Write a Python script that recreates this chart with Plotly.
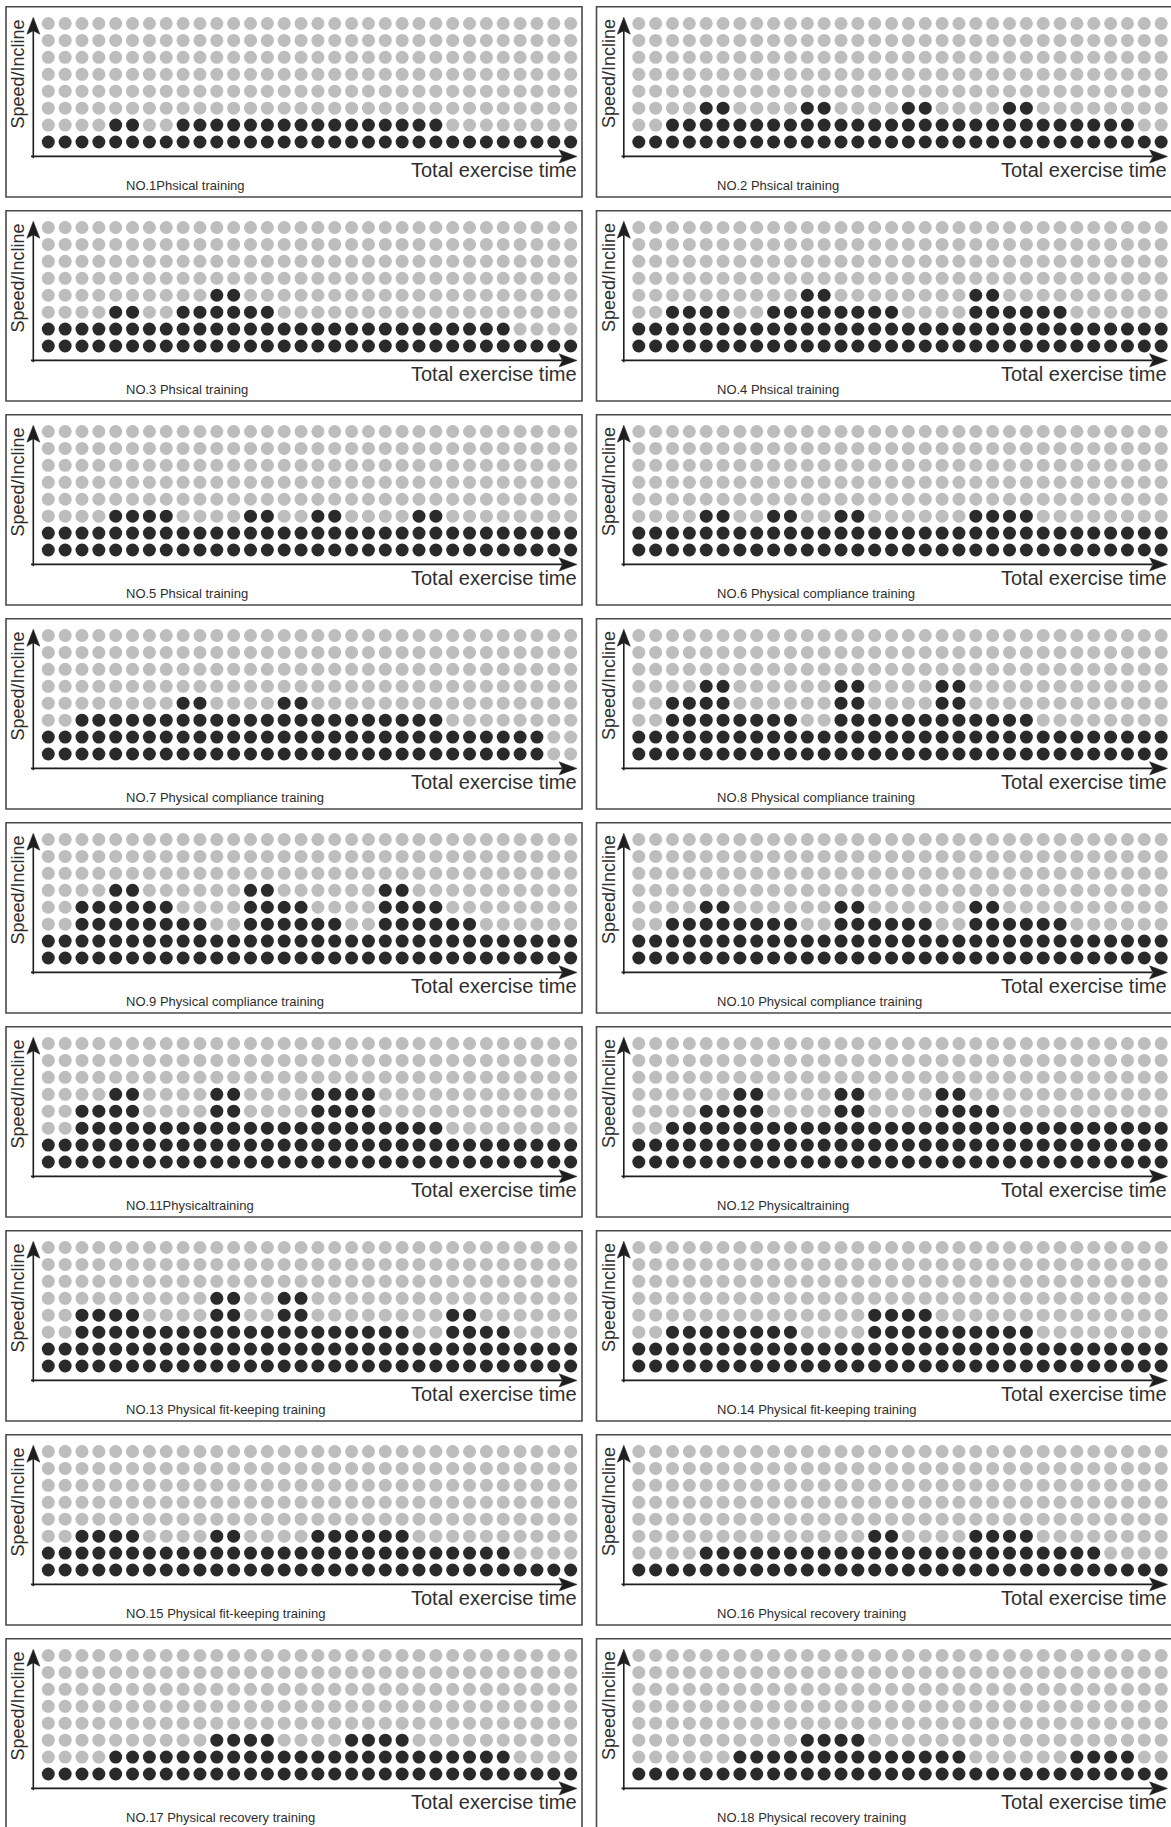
import plotly.graph_objects as go

W, H = 1171, 1827
N_COLS, N_ROWS = 32, 8

# number of dark dots (from the bottom) in each of the 32 time columns
p01 = [1,1,1,1,2,2,1,1, 2,2,2,2,2,2,2,2, 2,2,2,2,2,2,2,2, 1,1,1,1,1,1,1,1]
p02 = [1,1,2,2,3,3,2,2, 2,2,3,3,2,2,2,2, 3,3,2,2,2,2,3,3, 2,2,2,2,2,2,1,1]
p03 = [2,2,2,2,3,3,2,2, 3,3,4,4,3,3,2,2, 2,2,2,2,2,2,2,2, 2,2,2,2,1,1,1,1]
p04 = [2,2,3,3,3,3,2,2, 3,3,4,4,3,3,3,3, 2,2,2,2,4,4,3,3, 3,3,2,2,2,2,2,2]
p05 = [2,2,2,2,3,3,3,3, 2,2,2,2,3,3,2,2, 3,3,2,2,2,2,3,3, 2,2,2,2,2,2,2,2]
p06 = [2,2,2,2,3,3,2,2, 3,3,2,2,3,3,2,2, 2,2,2,2,3,3,3,3, 2,2,2,2,2,2,2,2]
p07 = [2,2,3,3,3,3,3,3, 4,4,3,3,3,3,4,4, 3,3,3,3,3,3,3,3, 2,2,2,2,2,2,0,0]
p08 = [2,2,4,4,5,5,3,3, 3,3,2,2,5,5,3,3, 3,3,5,5,3,3,3,3, 2,2,2,2,2,2,2,2]
p09 = [2,2,4,4,5,5,4,4, 3,3,2,2,5,5,4,4, 3,3,2,2,5,5,4,4, 3,3,2,2,2,2,2,2]
p10 = [2,2,3,3,4,4,3,3, 3,3,2,2,4,4,3,3, 3,3,2,2,4,4,3,3, 3,3,2,2,2,2,2,2]
p11 = [2,2,4,4,5,5,3,3, 3,3,5,5,3,3,3,3, 5,5,5,5,3,3,3,3, 2,2,2,2,2,2,2,2]
p12 = [2,2,3,3,4,4,5,5, 3,3,3,3,5,5,3,3, 3,3,5,5,4,4,3,3, 3,3,3,3,3,3,3,3]
p13 = [2,2,4,4,4,4,3,3, 3,3,5,5,3,3,5,5, 3,3,3,3,3,3,2,2, 4,4,3,3,2,2,2,2]
p14 = [2,2,3,3,3,3,3,3, 3,3,2,2,2,2,4,4, 4,4,3,3,3,3,3,3, 2,2,2,2,2,2,2,2]
p15 = [2,2,3,3,3,3,2,2, 2,2,3,3,2,2,2,2, 3,3,3,3,3,3,2,2, 2,2,2,2,1,1,1,1]
p16 = [1,1,1,1,2,2,2,2, 2,2,2,2,2,2,3,3, 2,2,2,2,3,3,3,3, 2,2,2,2,1,1,1,1]
p17 = [1,1,1,1,2,2,2,2, 2,2,3,3,3,3,2,2, 2,2,3,3,3,3,2,2, 2,2,2,2,1,1,1,1]
p18 = [1,1,1,1,1,1,2,2, 2,2,3,3,3,3,2,2, 2,2,2,2,1,1,1,1, 1,1,2,2,2,2,1,1]

profiles = [p01, p02, p03, p04, p05, p06, p07, p08, p09,
            p10, p11, p12, p13, p14, p15, p16, p17, p18]

titles = [
    "NO.1Phsical training",
    "NO.2 Phsical training",
    "NO.3 Phsical training",
    "NO.4 Phsical training",
    "NO.5 Phsical training",
    "NO.6 Physical compliance training",
    "NO.7 Physical compliance training",
    "NO.8 Physical compliance training",
    "NO.9 Physical compliance training",
    "NO.10 Physical compliance training",
    "NO.11Physicaltraining",
    "NO.12 Physicaltraining",
    "NO.13 Physical fit-keeping training",
    "NO.14 Physical fit-keeping training",
    "NO.15 Physical fit-keeping training",
    "NO.16 Physical recovery training",
    "NO.17 Physical recovery training",
    "NO.18 Physical recovery training",
]

y_label = "Speed/Incline"
x_label = "Total exercise time"

DARK = "#2a2a2a"
LIGHT = "#bdbdbd"
LINE = "#1e1e1e"
TEXT = "#2e2e2e"
FONT = "Liberation Sans, Arial, sans-serif"

# ---------- geometry (pixels) ----------
T0 = 6.7          # top of first panel
PITCH = 204.0     # vertical panel pitch
DX = 590.5        # horizontal offset of right column
COL0 = 48.3       # centre of first dot column
SX = 16.85        # column spacing
ROW_TOP = 16.8    # centre of top row (from panel top)
SY = 16.93        # row spacing


def px(x):
    return x / W


def py(y):
    return 1 - y / H


fig = go.Figure()
layout_axes = {}
shapes = []
annotations = []

for k, prof in enumerate(profiles):
    r, c = divmod(k, 2)
    T = T0 + PITCH * r
    dx = DX * c
    idx = "" if k == 0 else str(k + 1)

    xs, ys, cols = [], [], []
    for row in range(N_ROWS):
        for col in range(N_COLS):
            xs.append(col)
            ys.append(row)
            cols.append(DARK if row < prof[col] else LIGHT)

    fig.add_trace(go.Scatter(
        x=xs, y=ys, mode="markers",
        marker=dict(size=13, color=cols, line=dict(width=0)),
        xaxis="x" + idx, yaxis="y" + idx,
        hoverinfo="skip", showlegend=False,
    ))

    x_lo = COL0 + dx - SX / 2
    x_hi = COL0 + dx + (N_COLS - 1) * SX + SX / 2
    y_top = T + ROW_TOP - SY / 2
    y_bot = T + ROW_TOP + (N_ROWS - 1) * SY + SY / 2

    layout_axes["xaxis" + idx] = dict(
        domain=[px(x_lo), px(x_hi)], range=[-0.5, N_COLS - 0.5],
        visible=False, anchor="y" + idx, fixedrange=True)
    layout_axes["yaxis" + idx] = dict(
        domain=[py(y_bot), py(y_top)], range=[-0.5, N_ROWS - 0.5],
        visible=False, anchor="x" + idx, fixedrange=True)

    # panel frame
    shapes.append(dict(type="rect", xref="paper", yref="paper",
                       x0=px(6 + dx), x1=px(582 + dx),
                       y0=py(T), y1=py(T + 190.3),
                       line=dict(color="#4a4a4a", width=1.6)))
    # axis lines + arrows
    ax_x = 33.3 + dx
    ax_y = T + 149.7
    shapes.append(dict(type="line", xref="paper", yref="paper",
                       x0=px(ax_x), x1=px(ax_x), y0=py(T + 24), y1=py(T + 151.5),
                       line=dict(color=LINE, width=1.6)))
    shapes.append(dict(type="line", xref="paper", yref="paper",
                       x0=px(31 + dx), x1=px(562 + dx), y0=py(ax_y), y1=py(ax_y),
                       line=dict(color=LINE, width=1.6)))
    path_y = "M {} {} L {} {} L {} {} L {} {} Z".format(
        px(ax_x), py(T + 10.5), px(ax_x - 6.5), py(T + 27.5),
        px(ax_x), py(T + 24), px(ax_x + 6.5), py(T + 27.5))
    shapes.append(dict(type="path", xref="paper", yref="paper", path=path_y,
                       fillcolor=LINE, line=dict(color=LINE, width=0.5)))
    path_x = "M {} {} L {} {} L {} {} L {} {} Z".format(
        px(577 + dx), py(ax_y), px(559 + dx), py(ax_y - 6.6),
        px(562.5 + dx), py(ax_y), px(559 + dx), py(ax_y + 6.6))
    shapes.append(dict(type="path", xref="paper", yref="paper", path=path_x,
                       fillcolor=LINE, line=dict(color=LINE, width=0.5)))

    annotations.append(dict(
        text=y_label, xref="paper", yref="paper",
        x=px(17.8 + dx), y=py(T + 67), textangle=-90,
        xanchor="center", yanchor="middle", showarrow=False,
        font=dict(family=FONT, size=18, color=TEXT)))
    annotations.append(dict(
        text=x_label, xref="paper", yref="paper",
        x=px(578.5 + dx), y=py(T + 163), xanchor="right", yanchor="middle",
        showarrow=False, font=dict(family=FONT, size=20, color=TEXT)))
    annotations.append(dict(
        text=titles[k], xref="paper", yref="paper",
        x=px(124 + dx), y=py(T + 179), xanchor="left", yanchor="middle",
        showarrow=False, font=dict(family=FONT, size=13, color=TEXT)))

fig.update_layout(
    width=W, height=H, autosize=False,
    margin=dict(l=0, r=0, t=0, b=0),
    paper_bgcolor="white", plot_bgcolor="rgba(0,0,0,0)",
    showlegend=False, shapes=shapes, annotations=annotations,
    **layout_axes,
)

fig.write_html(
    "out.html",
    config={"displayModeBar": False, "staticPlot": True},
    post_script="document.body.style.margin='0';document.body.style.overflow='hidden';",
)
